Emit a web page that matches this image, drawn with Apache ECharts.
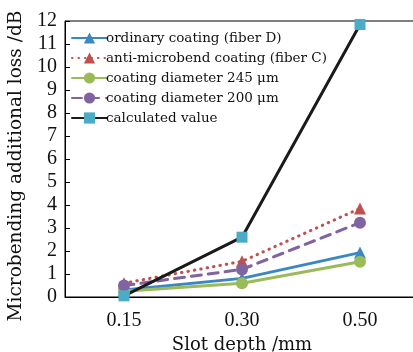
<!DOCTYPE html>
<html><head><meta charset="utf-8">
<script src="https://cdn.jsdelivr.net/npm/echarts@6/dist/echarts.min.js"></script>
<style>html,body{margin:0;padding:0;background:#fff}#c{width:413px;height:352px}</style>
</head><body><div id="c"></div>
<script>
const categories = ['0.15', '0.30', '0.50'];
const ordinaryFiberD = [0.3, 0.81, 1.93];
const antiMicrobendFiberC = [0.6, 1.55, 3.85];
const coating245 = [0.25, 0.6, 1.53];
const coating200 = [0.5, 1.2, 3.23];
const calculated = [0.05, 2.6, 11.85];
const seriesNames = ['ordinary coating (fiber D)', 'anti-microbend coating (fiber C)', 'coating diameter 245 μm', 'coating diameter 200 μm', 'calculated value'];

const font = 'Liberation Serif';
const nameFont = 'DejaVu Serif';
const chart = echarts.init(document.getElementById('c'));
function mk(name, data, color, symbol, lineType, size, symColor) {
  return {
    name, type: 'line', data, symbol, symbolSize: size,
    lineStyle: { color, width: 3, type: lineType, cap: 'round' },
    itemStyle: { color: symColor || color },
    animation: false
  };
}
chart.setOption({
  animation: false,
  grid: { left: 65, top: 21, width: 354, height: 276, show: true, borderColor: '#000', borderWidth: 1, outerBoundsMode: 'none', containLabel: false },
  legend: {
    left: 66, top: 26, orient: 'vertical', itemGap: 6, itemWidth: 35, itemHeight: 14,
    textStyle: { fontFamily: nameFont, fontSize: 13.5, color: '#111', padding: [0, 0, 0, -6] },
    data: seriesNames
  },
  xAxis: {
    type: 'category', data: categories,
    name: 'Slot depth /mm', nameLocation: 'middle', nameGap: 38,
    nameTextStyle: { fontFamily: nameFont, fontSize: 18, color: '#111' },
    axisLine: { lineStyle: { color: '#000', width: 1 } },
    axisTick: { show: false },
    axisLabel: { fontFamily: font, fontSize: 20, color: '#111', margin: 14 }
  },
  yAxis: {
    type: 'value', min: 0, max: 12, interval: 1,
    name: 'Microbending additional loss /dB', nameLocation: 'middle', nameGap: 32,
    nameTextStyle: { fontFamily: nameFont, fontSize: 18.5, color: '#111', padding: [0, 14, 0, 0] },
    axisLine: { show: true, lineStyle: { color: '#000', width: 1 } },
    axisTick: { show: true, inside: true, length: 5, lineStyle: { color: '#000' } },
    splitLine: { show: false },
    axisLabel: { fontFamily: font, fontSize: 20, color: '#111', margin: 8 }
  },
  series: [
    mk(seriesNames[0], ordinaryFiberD, '#3b87c4', 'triangle', 'solid', 12),
    mk(seriesNames[1], antiMicrobendFiberC, '#c0504d', 'triangle', [0.5, 6], 12),
    mk(seriesNames[2], coating245, '#9bbb59', 'circle', 'solid', 12),
    mk(seriesNames[3], coating200, '#8064a2', 'circle', [10, 7], 12),
    mk(seriesNames[4], calculated, '#1a1a1a', 'rect', 'solid', 11, '#4bacc6')
  ]
});
</script></body></html>
